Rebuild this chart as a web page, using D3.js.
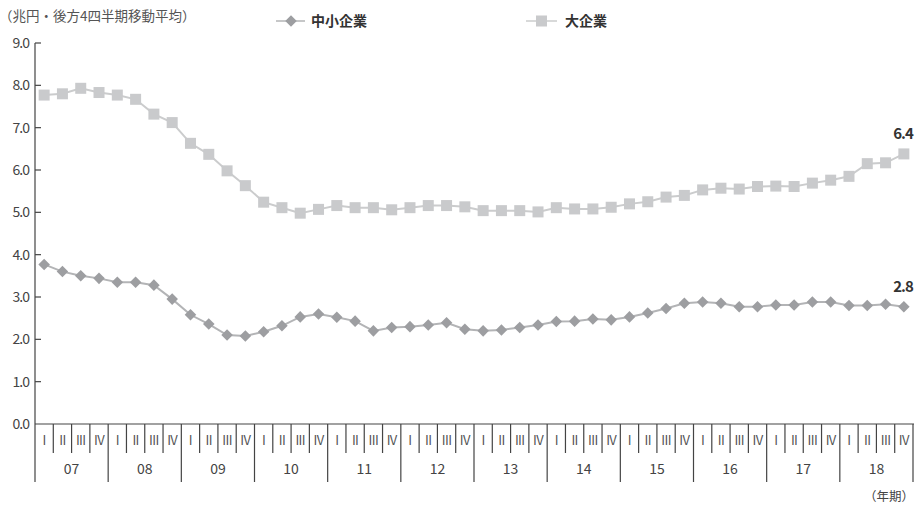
<!DOCTYPE html>
<html><head><meta charset="utf-8">
<script src="https://cdn.jsdelivr.net/npm/d3@7"></script>
<style>
body{margin:0;background:#fff;}
svg{display:block;}
text{font-family:"Noto Sans CJK JP","Noto Sans",sans-serif;}
</style></head>
<body>
<svg id="c" width="922" height="505"></svg>
<script>
const years = ["07","08","09","10","11","12","13","14","15","16","17","18"];
const quarters = ["I","II","III","IV"];
const yTicks = [0,1,2,3,4,5,6,7,8,9];
const sme = [3.77,3.60,3.50,3.44,3.35,3.35,3.28,2.95,2.58,2.36,2.10,2.08,2.18,2.32,2.53,2.60,
             2.52,2.43,2.20,2.28,2.30,2.34,2.39,2.24,2.20,2.22,2.28,2.34,2.42,2.43,2.48,2.46,
             2.53,2.62,2.73,2.85,2.88,2.85,2.77,2.77,2.81,2.81,2.88,2.88,2.80,2.80,2.83,2.77];
const large = [7.77,7.80,7.93,7.83,7.77,7.67,7.32,7.12,6.63,6.37,5.98,5.63,5.24,5.11,4.98,5.07,
               5.16,5.11,5.11,5.06,5.11,5.16,5.16,5.13,5.04,5.04,5.04,5.01,5.11,5.08,5.08,5.12,
               5.20,5.25,5.36,5.40,5.53,5.57,5.55,5.61,5.62,5.61,5.69,5.76,5.85,6.15,6.17,6.38];
const seriesNames = ["中小企業","大企業"];
const endLabels = ["2.8","6.4"];
const yTitle = "（兆円・後方4四半期移動平均）";
const xTitle = "（年期）";

const svg = d3.select("#c");
const mLeft = 35, mRight = 913, mTop = 43, mBottom = 424;
const idx = d3.range(years.length * quarters.length);
const x = d3.scaleBand().domain(idx).range([mLeft, mRight]);
const bw = x.bandwidth();
const cx = i => x(i) + bw / 2;
const y = d3.scaleLinear().domain([0, 9]).range([mBottom, mTop]);

const axisCol = "#444", txtCol = "#444";

// y-axis title
svg.append("text").attr("x", -1).attr("y", 21).attr("font-size", 13.5).attr("fill", "#555").text(yTitle);

// y axis
const yAxis = svg.append("g");
yAxis.append("line").attr("x1", mLeft).attr("x2", mLeft).attr("y1", mTop).attr("y2", 482)
  .attr("stroke", axisCol).attr("stroke-width", 1.2);
yAxis.selectAll("line.t").data(yTicks.filter(d => d > 0)).join("line").attr("class", "t")
  .attr("x1", mLeft).attr("x2", mLeft + 6).attr("y1", d => y(d)).attr("y2", d => y(d))
  .attr("stroke", axisCol).attr("stroke-width", 1.2);
yAxis.selectAll("text").data(yTicks).join("text")
  .attr("x", 29).attr("y", d => y(d)).attr("dy", "0.35em").attr("text-anchor", "end")
  .attr("font-size", 14).attr("fill", txtCol).attr("font-family", "'Open Sans',sans-serif")
  .attr("letter-spacing", "-1").text(d => d.toFixed(1));

// x axis
const xAxis = svg.append("g");
xAxis.append("line").attr("x1", mLeft).attr("x2", mRight + 1).attr("y1", mBottom).attr("y2", mBottom)
  .attr("stroke", axisCol).attr("stroke-width", 1.2);
xAxis.selectAll("line.q").data(d3.range(1, idx.length + 1)).join("line").attr("class", "q")
  .attr("x1", d => d < idx.length ? x(d) : mRight).attr("x2", d => d < idx.length ? x(d) : mRight)
  .attr("y1", mBottom).attr("y2", d => d % 4 === 0 ? 482 : 453)
  .attr("stroke", axisCol).attr("stroke-width", 1.2);
xAxis.selectAll("text.q").data(idx).join("text").attr("class", "q")
  .attr("x", d => cx(d)).attr("y", 440).attr("dy", "0.35em").attr("text-anchor", "middle")
  .attr("font-size", 13).attr("fill", "#555").attr("font-family", "'Liberation Sans Narrow','Open Sans',sans-serif")
  .attr("letter-spacing", "-0.6").text(d => quarters[d % 4]);
xAxis.selectAll("text.y").data(years).join("text").attr("class", "y")
  .attr("x", (d, i) => x(i * 4) + bw * 2).attr("y", 469).attr("dy", "0.35em").attr("text-anchor", "middle")
  .attr("font-size", 14).attr("fill", "#444").attr("font-family", "'Open Sans',sans-serif").text(d => d);
svg.append("text").attr("x", 914).attr("y", 497).attr("text-anchor", "end").attr("dy", "0.35em")
  .attr("font-size", 12.5).attr("fill", txtCol).text(xTitle);

// series
const smeLine = "#b3b4b6", smeMark = "#9d9ea1";
const lgLine = "#cbcccd", lgMark = "#c9cacc";
const line = d3.line().x((d, i) => cx(i)).y(d => y(d));

svg.append("path").datum(large).attr("d", line).attr("fill", "none").attr("stroke", lgLine).attr("stroke-width", 2);
svg.append("g").selectAll("rect").data(large).join("rect")
  .attr("x", (d, i) => cx(i) - 5.5).attr("y", d => y(d) - 5.5).attr("width", 11).attr("height", 11).attr("fill", lgMark);

svg.append("path").datum(sme).attr("d", line).attr("fill", "none").attr("stroke", smeLine).attr("stroke-width", 2);
const dia = d3.symbol().type(d3.symbolDiamond2).size(85);
svg.append("g").selectAll("path").data(sme).join("path")
  .attr("d", dia).attr("transform", (d, i) => `translate(${cx(i)},${y(d)})`).attr("fill", smeMark);

// end labels
const last = idx.length - 1;
[sme, large].forEach((s, k) => {
  svg.append("text").attr("x", cx(last) + 9).attr("y", y(s[last]) - 15).attr("text-anchor", "end")
    .attr("font-size", 15).attr("font-weight", "bold").attr("fill", "#333")
    .attr("font-family", "'Open Sans',sans-serif").attr("letter-spacing", "-1").text(endLabels[k]);
});

// legend
const lg = svg.append("g");
lg.append("line").attr("x1", 276).attr("x2", 305).attr("y1", 21).attr("y2", 21).attr("stroke", smeLine).attr("stroke-width", 1.5);
lg.append("path").attr("d", dia).attr("transform", "translate(291,21)").attr("fill", smeMark);
lg.append("text").attr("x", 311).attr("y", 21).attr("dy", "0.35em").attr("font-size", 14).attr("font-weight", "bold").attr("fill", "#333").text(seriesNames[0]);
lg.append("line").attr("x1", 526).attr("x2", 557).attr("y1", 21).attr("y2", 21).attr("stroke", lgLine).attr("stroke-width", 1.5);
lg.append("rect").attr("x", 536).attr("y", 15.5).attr("width", 11).attr("height", 11).attr("fill", lgMark);
lg.append("text").attr("x", 565).attr("y", 21).attr("dy", "0.35em").attr("font-size", 14).attr("font-weight", "bold").attr("fill", "#333").text(seriesNames[1]);
</script>
</body></html>
